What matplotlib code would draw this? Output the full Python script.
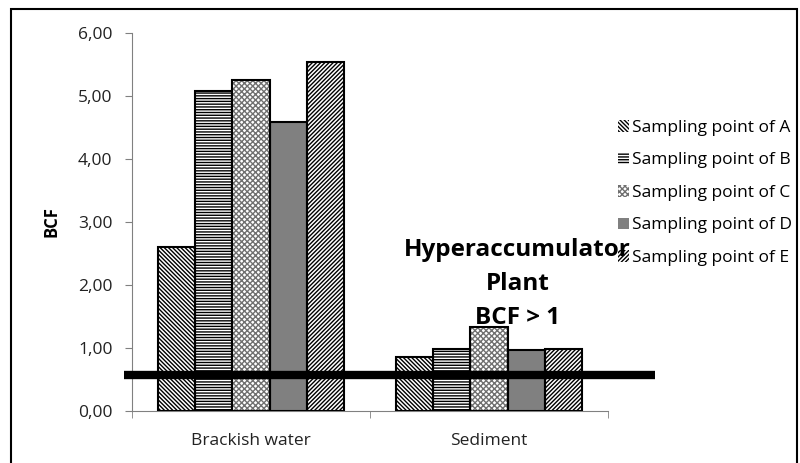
import matplotlib
matplotlib.use("Agg")
import matplotlib.pyplot as plt
import numpy as np
from matplotlib.ticker import FuncFormatter
from matplotlib.patches import Rectangle

categories = ["Brackish water", "Sediment"]
series = ["Sampling point of A", "Sampling point of B", "Sampling point of C",
          "Sampling point of D", "Sampling point of E"]
point_a = [2.61, 0.86]
point_b = [5.08, 0.98]
point_c = [5.25, 1.33]
point_d = [4.58, 0.97]
point_e = [5.54, 0.98]
threshold = 0.57
note = "Hyperaccumulator\nPlant\nBCF > 1"

plt.rcParams['font.family'] = ['Open Sans', 'DejaVu Sans']
plt.rcParams['hatch.linewidth'] = 1.0

fig = plt.figure(figsize=(8, 4.63), dpi=100)
ax = fig.add_axes([0.165, 0.1123, 0.595, 0.8164])

values = [point_a, point_b, point_c, point_d, point_e]
hatches = ['\\\\\\\\\\\\\\\\', '------', 'xxxxxx', None, '////////']
faces = ['white', 'white', 'white', '#808080', 'white']
hcols = ['black', 'black', '#707070', 'black', 'black']

x = np.arange(len(categories))
w = 0.156
for i, (vals, lab) in enumerate(zip(values, series)):
    ax.bar(x + (i - 2) * w, vals, w, facecolor=faces[i], edgecolor=hcols[i],
           hatch=hatches[i], linewidth=0, label=lab, zorder=2)
    ax.bar(x + (i - 2) * w, vals, w, facecolor='none', edgecolor='black',
           linewidth=1.5, zorder=3)

ax.plot([-0.534, 1.697], [threshold, threshold], color='black', lw=6,
        solid_capstyle='butt', clip_on=False, zorder=4)

ax.text(1.12, 2.02, note, ha='center', va='center', fontsize=17.5,
        fontweight='bold', linespacing=1.55, zorder=7)

ax.set_xlim(-0.5, 1.5)
ax.set_ylim(0, 6)
ax.set_yticks(np.arange(0, 7, 1))
ax.yaxis.set_major_formatter(FuncFormatter(lambda v, p: f"{v:.2f}".replace('.', ',')))
ax.set_xticks(x)
ax.set_xticklabels(categories)
ax.set_xticks([-0.5, 0.5, 1.5], minor=True)
ax.tick_params(axis='x', which='major', length=0, pad=16, labelsize=12.5, colors='#222222')
ax.tick_params(axis='x', which='minor', length=5, color='#808080', direction='out')
ax.tick_params(axis='y', length=5, color='#808080', labelsize=12.5, labelcolor='#222222', pad=9)
for s in ['top', 'right']:
    ax.spines[s].set_visible(False)
ax.spines['left'].set_color('#808080')
ax.spines['bottom'].set_color('#808080')
ax.set_ylabel("BCF", fontweight='bold', fontsize=12, labelpad=13)

handles, labels = ax.get_legend_handles_labels()
leg = ax.legend(handles, labels, loc='center left', bbox_to_anchor=(1.021, 0.577),
                frameon=False, fontsize=12.5, handlelength=0.65, handleheight=0.65,
                handletextpad=0.17, labelspacing=0.95, borderpad=0, borderaxespad=0)
leg.set_zorder(5)

fig.patches.append(Rectangle((11 / 800, -0.05), 786 / 800, 1 - 9 / 463 + 0.05,
                             transform=fig.transFigure, fill=False,
                             edgecolor='black', lw=1.5))

fig.savefig("out.png", dpi=100)
